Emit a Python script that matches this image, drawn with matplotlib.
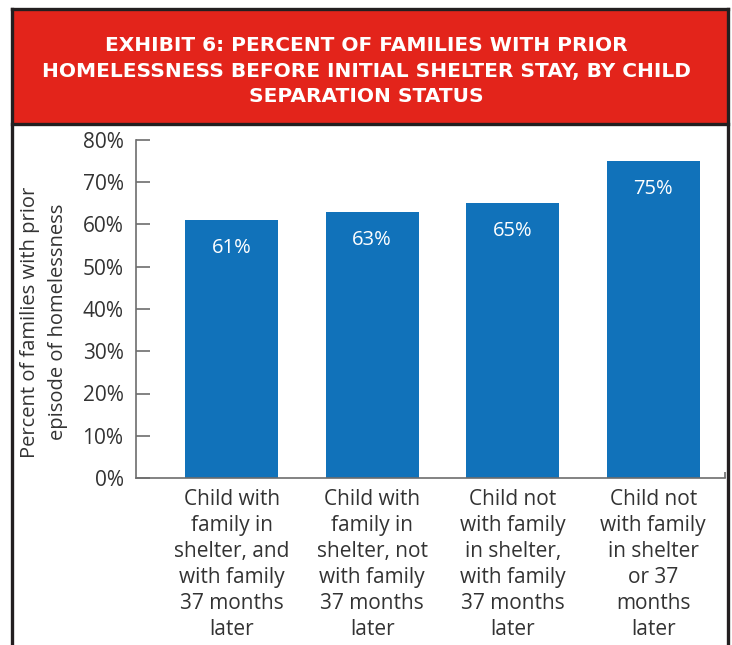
import matplotlib.pyplot as plt
from matplotlib.patches import Rectangle
from matplotlib.lines import Line2D

# values (percent with prior homelessness) by separation status
categories = [
    'Child with\nfamily in\nshelter, and\nwith family\n37 months\nlater',
    'Child with\nfamily in\nshelter, not\nwith family\n37 months\nlater',
    'Child not\nwith family\nin shelter,\nwith family\n37 months\nlater',
    'Child not\nwith family\nin shelter\nor 37\nmonths\nlater',
]
values = [61, 63, 65, 75]
y_ticks = [0, 10, 20, 30, 40, 50, 60, 70, 80]

title = ('EXHIBIT 6: PERCENT OF FAMILIES WITH PRIOR\n'
         'HOMELESSNESS BEFORE INITIAL SHELTER STAY, BY CHILD\n'
         'SEPARATION STATUS')
ylabel = 'Percent of families with prior\nepisode of homelessness'

RED = '#e3241b'
BLUE = '#1172ba'
FRAME = '#231f20'
TEXT = '#333333'
AXIS = '#6d6d6d'

plt.rcParams['font.family'] = ['Open Sans', 'DejaVu Sans']

W, H = 732, 645
fig = plt.figure(figsize=(W / 100, H / 100), dpi=100)

def fx(px):
    return px / W

def fy(py):
    return 1 - py / H

# red title band and frame
fig.patches.append(Rectangle((fx(12), fy(124)), fx(716), fy(10) - fy(124),
                             transform=fig.transFigure, facecolor=RED,
                             edgecolor='none', zorder=0))
frame_kw = dict(transform=fig.transFigure, color=FRAME, linewidth=2.4)
fig.lines.append(Line2D([fx(12), fx(728)], [fy(9), fy(9)], **frame_kw))
fig.lines.append(Line2D([fx(12), fx(728)], [fy(124), fy(124)], **frame_kw))
fig.lines.append(Line2D([fx(12), fx(12)], [fy(9), fy(650)], **frame_kw))
fig.lines.append(Line2D([fx(728), fx(728)], [fy(9), fy(650)], **frame_kw))

fig.text(fx(366), fy(71), title, color='white', fontsize=14.5, fontweight='bold',
         family=['DejaVu Sans'], ha='center', va='center',
         multialignment='center', linespacing=1.46)

ax = fig.add_axes([fx(136), fy(478), fx(725) - fx(136), fy(140) - fy(478)])
x = list(range(len(categories)))
bars = ax.bar(x, values, width=0.66, color=BLUE, zorder=2)

for rect, v in zip(bars, values):
    ax.annotate(f'{v}%', (rect.get_x() + rect.get_width() / 2, v),
                xytext=(0, -20), textcoords='offset points',
                ha='center', va='center', color='white', fontsize=14.5)

ax.set_xlim(-0.68, 3.51)
ax.set_ylim(0, 80)
ax.set_yticks(y_ticks)
ax.set_yticklabels([f'{t}%' for t in y_ticks])
ax.set_xticks(x)
ax.set_xticklabels(categories, fontsize=15, color=TEXT, linespacing=1.31)
ax.set_xticks([3.51], minor=True)

for side in ['top', 'right']:
    ax.spines[side].set_visible(False)
for side in ['left', 'bottom']:
    ax.spines[side].set_color(AXIS)
    ax.spines[side].set_linewidth(1.2)

ax.tick_params(axis='y', direction='in', length=10, width=1.2, color=AXIS,
               labelsize=15, labelcolor=TEXT, pad=9)
ax.tick_params(axis='x', which='major', length=0, pad=8)
ax.tick_params(axis='x', which='minor', direction='in', length=4, width=1.2,
               color=AXIS)

fig.text(fx(44), fy(322), ylabel, rotation=90, fontsize=14.5, color=TEXT,
         ha='center', va='center', multialignment='center', linespacing=1.5)

fig.savefig('out.png', dpi=100)
